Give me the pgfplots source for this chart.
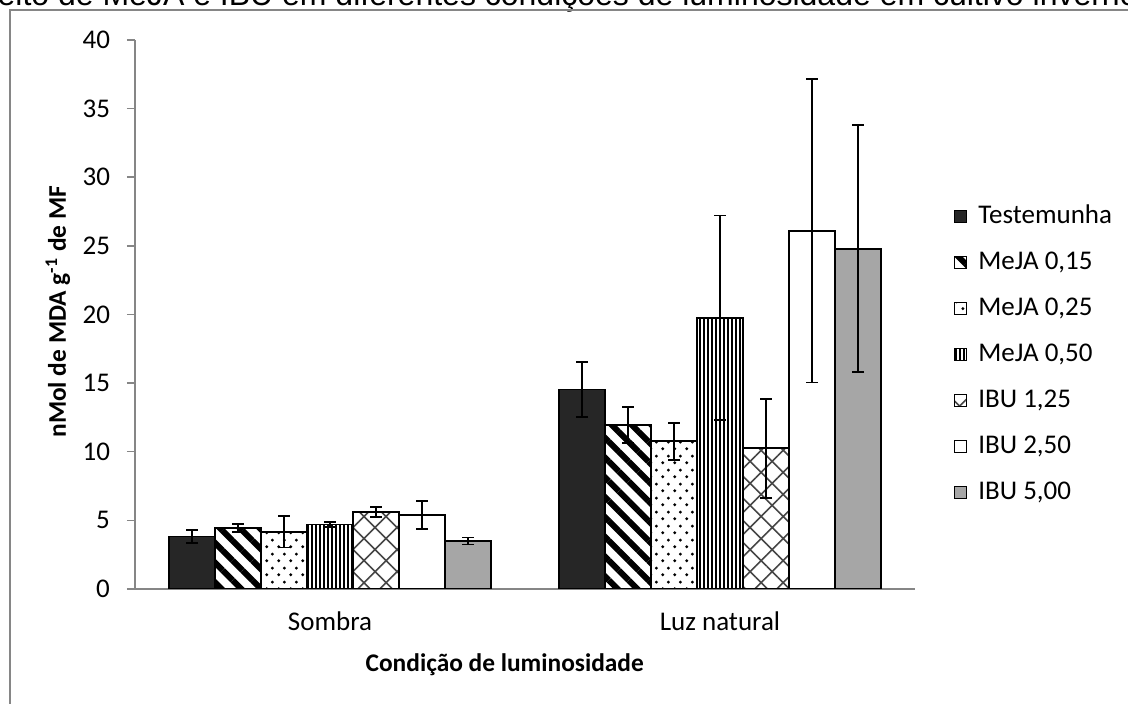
\documentclass[border=0pt]{standalone}
\usepackage{pgfplots}
\pgfplotsset{compat=1.18}
\usepackage{fontspec}
\setmainfont{Carlito}
\newfontfamily\titlefont{Liberation Sans}
\usetikzlibrary{patterns,patterns.meta}
\definecolor{axgray}{RGB}{134,134,134}
\definecolor{darkbar}{RGB}{38,38,38}
\definecolor{midbar}{RGB}{166,166,166}
\definecolor{hatchgray}{RGB}{70,70,70}
\pgfdeclarepatternformonly{mydots}{\pgfqpoint{0pt}{0pt}}{\pgfqpoint{6pt}{7pt}}{\pgfqpoint{6pt}{7pt}}{%
  \pgfpathcircle{\pgfqpoint{1.5pt}{1.75pt}}{0.85pt}%
  \pgfpathcircle{\pgfqpoint{4.5pt}{5.25pt}}{0.85pt}%
  \pgfusepath{fill}}
\begin{document}
\begin{tikzpicture}
\useasboundingbox (0,0) rectangle (564pt,352pt);
\node[anchor=base west, font=\titlefont\fontsize{16}{19}\selectfont, inner sep=0pt] at (-16.5pt,349pt) {Efeito de MeJA e IBU em diferentes condições de luminosidade em cultivo inverno};
\draw[axgray, line width=0.8pt] (5pt,-5pt) -- (5pt,347pt) -- (570pt,347pt);
\begin{axis}[
  at={(67.5pt,57.5pt)}, anchor=south west,
  scale only axis, width=390pt, height=274.5pt,
  ybar=0pt, bar width=23pt,
  xmin=-0.5, xmax=1.5, ymin=0, ymax=40,
  xtick={0,1}, xticklabels={Sombra, Luz natural},
  ytick={0,5,...,40},
  /pgf/number format/assume math mode=true,
  axis x line*=bottom, axis y line*=left,
  axis line style={axgray, line width=0.75pt},
  major tick length=4pt, tick align=outside,
  y tick style={axgray, line width=0.75pt},
  x tick style={draw=none},
  tick label style={font=\fontsize{13.5}{16}\selectfont},
  xticklabel style={yshift=-4pt},
  yticklabel style={xshift=-5pt},
  xlabel={\bfseries Condição de luminosidade},
  ylabel={\bfseries nMol de MDA g\textsuperscript{-1} de MF},
  label style={font=\fontsize{12.7}{15}\selectfont},
  xlabel style={at={(axis description cs:0.474,-0.138)}, anchor=center},
  ylabel style={at={(axis description cs:-0.099,0.505)}, anchor=center},
  legend cell align=left,
  legend style={draw=none, fill=none, at={(axis description cs:1.042,0.427)}, anchor=west,
    font=\fontsize{13.5}{16}\selectfont, row sep=8pt,
    nodes={inner sep=1.5pt, text height=9.5pt, text depth=2.5pt},
    /tikz/every odd column/.append style={column sep=4pt}},
  legend image code/.code={\draw[#1, line width=0.6pt] (0pt,-3pt) rectangle (6pt,3pt);},
  eb/.style={error bars/.cd, y dir=both, y explicit,
    error bar style={black, line width=0.8pt},
    error mark options={black, line width=0.8pt, mark size=3pt, rotate=90}},
]
\addplot[draw=black, line width=0.9pt, fill=darkbar, eb] coordinates {(0,3.83) +- (0,0.48) (1,14.53) +- (0,2.0)};
\addlegendentry{Testemunha}
\addplot[draw=black, line width=0.9pt, pattern={Lines[angle=-45,distance=7pt,line width=3pt]}, pattern color=black, eb] coordinates {(0,4.45) +- (0,0.28) (1,11.96) +- (0,1.32)};
\addlegendentry{MeJA 0,15}
\addplot[draw=black, line width=0.9pt, pattern=mydots, pattern color=black, eb] coordinates {(0,4.17) +- (0,1.14) (1,10.76) +- (0,1.35)};
\addlegendentry{MeJA 0,25}
\addplot[draw=black, line width=0.9pt, pattern={Lines[angle=90,distance=2pt,line width=0.8pt]}, pattern color=black, eb] coordinates {(0,4.7) +- (0,0.17) (1,19.75) +- (0,7.45)};
\addlegendentry{MeJA 0,50}
\addplot[draw=black, line width=0.9pt, pattern={Hatch[angle=45,distance=7.8pt,line width=0.8pt]}, pattern color=hatchgray, eb] coordinates {(0,5.6) +- (0,0.37) (1,10.25) +- (0,3.6)};
\addlegendentry{IBU 1,25}
\addplot[draw=black, line width=0.9pt, fill=white, eb] coordinates {(0,5.4) +- (0,1.03) (1,26.1) +- (0,11.05)};
\addlegendentry{IBU 2,50}
\addplot[draw=black, line width=0.9pt, fill=midbar, eb] coordinates {(0,3.49) +- (0,0.25) (1,24.8) +- (0,9.0)};
\addlegendentry{IBU 5,00}
\end{axis}
\end{tikzpicture}
\end{document}
